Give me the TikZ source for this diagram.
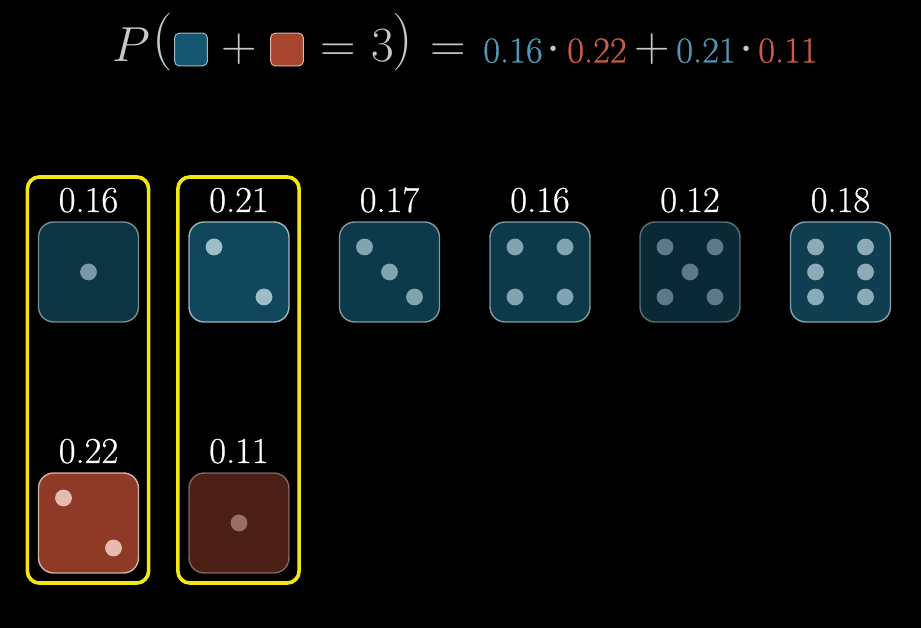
\documentclass[tikz,border=0pt]{standalone}
\usepackage{fix-cm}
\usepackage{amsmath,amssymb}
\usepackage{fontspec}
\newfontfamily\numfont{Latin Modern Roman}[RawFeature={embolden=0.6}]
\usetikzlibrary{positioning}
\definecolor{dieblue}{HTML}{14566F}
\definecolor{diered}{HTML}{A8452F}
\definecolor{pipblue}{HTML}{BAD6E0}
\definecolor{pipred}{HTML}{F5D2C8}
\definecolor{numblue}{HTML}{4F98B4}
\definecolor{numred}{HTML}{CC5B48}
\definecolor{mathgray}{HTML}{C8C8C8}
\definecolor{boxyellow}{HTML}{F2E70F}
\tikzset{
  die/.style={draw=white!72!#1, line width=1pt, fill=#1, rounded corners=0.38cm, minimum size=2.5cm, inner sep=0pt},
  pip/.style={circle, fill=#1, minimum size=0.42cm, inner sep=0pt},
  problabel/.style={anchor=base, inner sep=0pt, text=white, font=\numfont\fontsize{26}{30}\selectfont},
  mathpart/.style={anchor=base, inner sep=0pt, text=mathgray, font=\fontsize{35}{40}\selectfont},
  numpart/.style={anchor=base, inner sep=0pt, font=\numfont\fontsize{26}{30}\selectfont},
  dotpart/.style={anchor=base, inner sep=0pt, text=mathgray, font=\fontsize{36}{40}\selectfont},
  swatch/.style={draw=white!60!#1, line width=0.7pt, fill=#1, rounded corners=0.12cm, minimum size=0.82cm, inner sep=0pt},
  pairbox/.style={draw=boxyellow, line width=2.6pt, rounded corners=0.3cm, minimum width=3.03cm, minimum height=10.15cm, inner sep=0pt}
}

\begin{document}
\begin{tikzpicture}[x=0.025cm, y=-0.025cm]
\fill[black] (0,0) rectangle (921,628);
\useasboundingbox (0,0) rectangle (921,628);

% Formula on top
\node[mathpart] (fP) at (131,62) {$P$};
\node[mathpart, font=\fontsize{41}{46}\selectfont] (fopen) at (163,57) {$($};
\node[swatch=dieblue] (fblue) at (191,49.5) {};
\node[mathpart] (fplus) at (239,62) {$+$};
\node[swatch=diered] (fred) at (287,49.5) {};
\node[mathpart] (feq) at (338,62) {$=$};
\node[mathpart] (fthree) at (383,62) {$3$};
\node[mathpart, font=\fontsize{41}{46}\selectfont] (fclose) at (403,57) {$)$};
\node[mathpart] (feqb) at (448,62) {$=$};

% Numbers of the sum
\node[numpart, text=numblue] (na) at (513,62.5) {0.16};
\node[dotpart] (dota) at (554,62) {$\cdot$};
\node[numpart, text=numred] (nb) at (597,62.5) {0.22};
\node[mathpart] (fplusb) at (652,62) {$+$};
\node[numpart, text=numblue] (nc) at (706,62.5) {0.21};
\node[dotpart] (dotb) at (747,62) {$\cdot$};
\node[numpart, text=numred] (nd) at (788,62.5) {0.11};

% Dice with their probabilities
\foreach \name/\x/\y/\val/\col/\pipcol/\op/\pips in {
    ba/88.5/272/0.16/dieblue/pipblue/0.62/{0/0},
    bb/239/272/0.21/dieblue/pipblue/0.83/{-1/-1,1/1},
    bc/389.5/272/0.17/dieblue/pipblue/0.68/{-1/-1,0/0,1/1},
    bd/540/272/0.16/dieblue/pipblue/0.68/{-1/-1,1/-1,-1/1,1/1},
    be/690/272/0.12/dieblue/pipblue/0.48/{-1/-1,1/-1,0/0,-1/1,1/1},
    bf/840.5/272/0.18/dieblue/pipblue/0.72/{-1/-1,1/-1,-1/0,1/0,-1/1,1/1},
    ra/88.5/523/0.22/diered/pipred/0.85/{-1/-1,1/1},
    rb/239/523/0.11/diered/pipred/0.45/{0/0}} {
    \node[die=\col, opacity=\op] (die\name) at (\x,\y) {};
    \node[problabel] (prob\name) at (\x,\y-60) {\val};
    \foreach \a/\b [count=\i] in \pips {
        \node[pip=\pipcol, opacity=\op] (pip\name\i) at (\x+25*\a,\y+25*\b) {};
    }
}

% Yellow boxes round the two pairs
\node[pairbox] (paira) at (88,380) {};
\node[pairbox] (pairb) at (238.5,380) {};

\end{tikzpicture}
\end{document}
